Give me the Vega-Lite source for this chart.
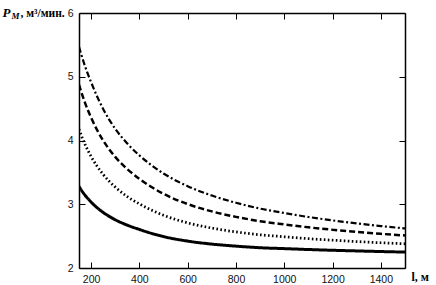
{
  "$schema": "https://vega.github.io/schema/vega-lite/v6.json",
  "width": 326,
  "height": 255,
  "autosize": {"type": "none"},
  "padding": {"left": 79, "top": 13, "right": 31, "bottom": 17},
  "background": "white",
  "config": {
    "view": {"stroke": null},
    "axis": {
      "grid": false,
      "domainColor": "black",
      "domainWidth": 1.5,
      "tickColor": "black",
      "tickWidth": 1,
      "tickSize": -6,
      "labelFont": "Liberation Sans",
      "labelFontSize": 10.5,
      "labelColor": "#111",
      "titleFont": "Liberation Serif",
      "titleFontWeight": "bold",
      "titleColor": "black"
    }
  },
  "data": {
    "values": [
      {"l":150,"P":3.280,"s":"a"},{"l":160,"P":3.220,"s":"a"},{"l":175,"P":3.142,"s":"a"},{"l":200,"P":3.035,"s":"a"},{"l":225,"P":2.946,"s":"a"},{"l":250,"P":2.872,"s":"a"},{"l":275,"P":2.810,"s":"a"},{"l":300,"P":2.757,"s":"a"},{"l":350,"P":2.672,"s":"a"},{"l":400,"P":2.605,"s":"a"},{"l":450,"P":2.544,"s":"a"},{"l":500,"P":2.493,"s":"a"},{"l":600,"P":2.422,"s":"a"},{"l":700,"P":2.375,"s":"a"},{"l":800,"P":2.343,"s":"a"},{"l":900,"P":2.318,"s":"a"},{"l":1000,"P":2.304,"s":"a"},{"l":1100,"P":2.290,"s":"a"},{"l":1200,"P":2.278,"s":"a"},{"l":1300,"P":2.268,"s":"a"},{"l":1400,"P":2.258,"s":"a"},{"l":1500,"P":2.250,"s":"a"},
      {"l":150,"P":4.179,"s":"b"},{"l":160,"P":4.075,"s":"b"},{"l":175,"P":3.938,"s":"b"},{"l":200,"P":3.750,"s":"b"},{"l":225,"P":3.596,"s":"b"},{"l":250,"P":3.468,"s":"b"},{"l":275,"P":3.360,"s":"b"},{"l":300,"P":3.269,"s":"b"},{"l":350,"P":3.120,"s":"b"},{"l":400,"P":3.006,"s":"b"},{"l":450,"P":2.909,"s":"b"},{"l":500,"P":2.827,"s":"b"},{"l":600,"P":2.708,"s":"b"},{"l":700,"P":2.626,"s":"b"},{"l":800,"P":2.566,"s":"b"},{"l":900,"P":2.521,"s":"b"},{"l":1000,"P":2.490,"s":"b"},{"l":1100,"P":2.460,"s":"b"},{"l":1200,"P":2.436,"s":"b"},{"l":1300,"P":2.415,"s":"b"},{"l":1400,"P":2.396,"s":"b"},{"l":1500,"P":2.380,"s":"b"},
      {"l":150,"P":4.878,"s":"c"},{"l":160,"P":4.755,"s":"c"},{"l":175,"P":4.590,"s":"c"},{"l":200,"P":4.360,"s":"c"},{"l":225,"P":4.165,"s":"c"},{"l":250,"P":4.000,"s":"c"},{"l":275,"P":3.862,"s":"c"},{"l":300,"P":3.743,"s":"c"},{"l":350,"P":3.552,"s":"c"},{"l":400,"P":3.399,"s":"c"},{"l":450,"P":3.271,"s":"c"},{"l":500,"P":3.164,"s":"c"},{"l":600,"P":3.003,"s":"c"},{"l":700,"P":2.888,"s":"c"},{"l":800,"P":2.802,"s":"c"},{"l":900,"P":2.734,"s":"c"},{"l":1000,"P":2.684,"s":"c"},{"l":1100,"P":2.638,"s":"c"},{"l":1200,"P":2.600,"s":"c"},{"l":1300,"P":2.566,"s":"c"},{"l":1400,"P":2.536,"s":"c"},{"l":1500,"P":2.510,"s":"c"},
      {"l":150,"P":5.469,"s":"d"},{"l":160,"P":5.340,"s":"d"},{"l":175,"P":5.165,"s":"d"},{"l":200,"P":4.915,"s":"d"},{"l":225,"P":4.690,"s":"d"},{"l":250,"P":4.495,"s":"d"},{"l":275,"P":4.328,"s":"d"},{"l":300,"P":4.184,"s":"d"},{"l":350,"P":3.953,"s":"d"},{"l":400,"P":3.766,"s":"d"},{"l":450,"P":3.612,"s":"d"},{"l":500,"P":3.482,"s":"d"},{"l":600,"P":3.283,"s":"d"},{"l":700,"P":3.136,"s":"d"},{"l":800,"P":3.023,"s":"d"},{"l":900,"P":2.932,"s":"d"},{"l":1000,"P":2.863,"s":"d"},{"l":1100,"P":2.800,"s":"d"},{"l":1200,"P":2.747,"s":"d"},{"l":1300,"P":2.700,"s":"d"},{"l":1400,"P":2.658,"s":"d"},{"l":1500,"P":2.620,"s":"d"}
    ]
  },
  "resolve": {"axis": {"x": "independent", "y": "independent"}},
  "layer": [
    {
      "mark": {"type": "line", "interpolate": "monotone", "color": "black", "clip": true},
      "encoding": {
        "x": {"field": "l", "type": "quantitative",
              "scale": {"domain": [150, 1500], "nice": false, "zero": false},
              "axis": {"orient": "bottom", "values": [200,400,600,800,1000,1200,1400], "format": "d", "labelPadding": 12,
                       "title": "l, м", "titleFontSize": 12, "titleAngle": 0, "titleAlign": "left", "titleBaseline": "alphabetic",
                       "titleX": 332, "titleY": 12}},
        "y": {"field": "P", "type": "quantitative",
              "scale": {"domain": [2, 6], "nice": false, "zero": false},
              "axis": {"orient": "left", "values": [2,3,4,5,6], "format": "d", "labelPadding": 12,
                       "title": "P", "titleFontSize": 13, "titleFontStyle": "italic", "titleAngle": 0,
                       "titleAlign": "left", "titleBaseline": "alphabetic", "titleX": -77, "titleY": 3}},
        "detail": {"field": "s"},
        "strokeDash": {"field": "s", "type": "nominal", "legend": null,
                       "scale": {"domain": ["a","b","c","d"], "range": [[1,0],[1.6,2.4],[6,3],[6,2.5,2,2.5]]}},
        "strokeWidth": {"field": "s", "type": "ordinal", "legend": null,
                        "scale": {"domain": ["a","b","c","d"], "range": [3,2.2,3,3]}}
      }
    },
    {
      "mark": {"type": "line", "opacity": 0},
      "encoding": {
        "x": {"field": "l", "type": "quantitative",
              "axis": {"orient": "top", "values": [200,400,600,800,1000,1200,1400], "labels": false,
                       "title": ", м³/мин.", "titleFontSize": 11.5, "titleAngle": 0, "titleAlign": "left", "titleBaseline": "alphabetic",
                       "titleX": -59, "titleY": 3}},
        "y": {"field": "P", "type": "quantitative",
              "axis": {"orient": "right", "values": [2,3,4,5,6], "labels": false,
                       "title": "M", "titleFontSize": 9, "titleFontStyle": "italic", "titleAngle": 0,
                       "titleAlign": "left", "titleBaseline": "alphabetic", "titleX": -394, "titleY": 5}},
        "detail": {"field": "s"}
      }
    }
  ]
}
